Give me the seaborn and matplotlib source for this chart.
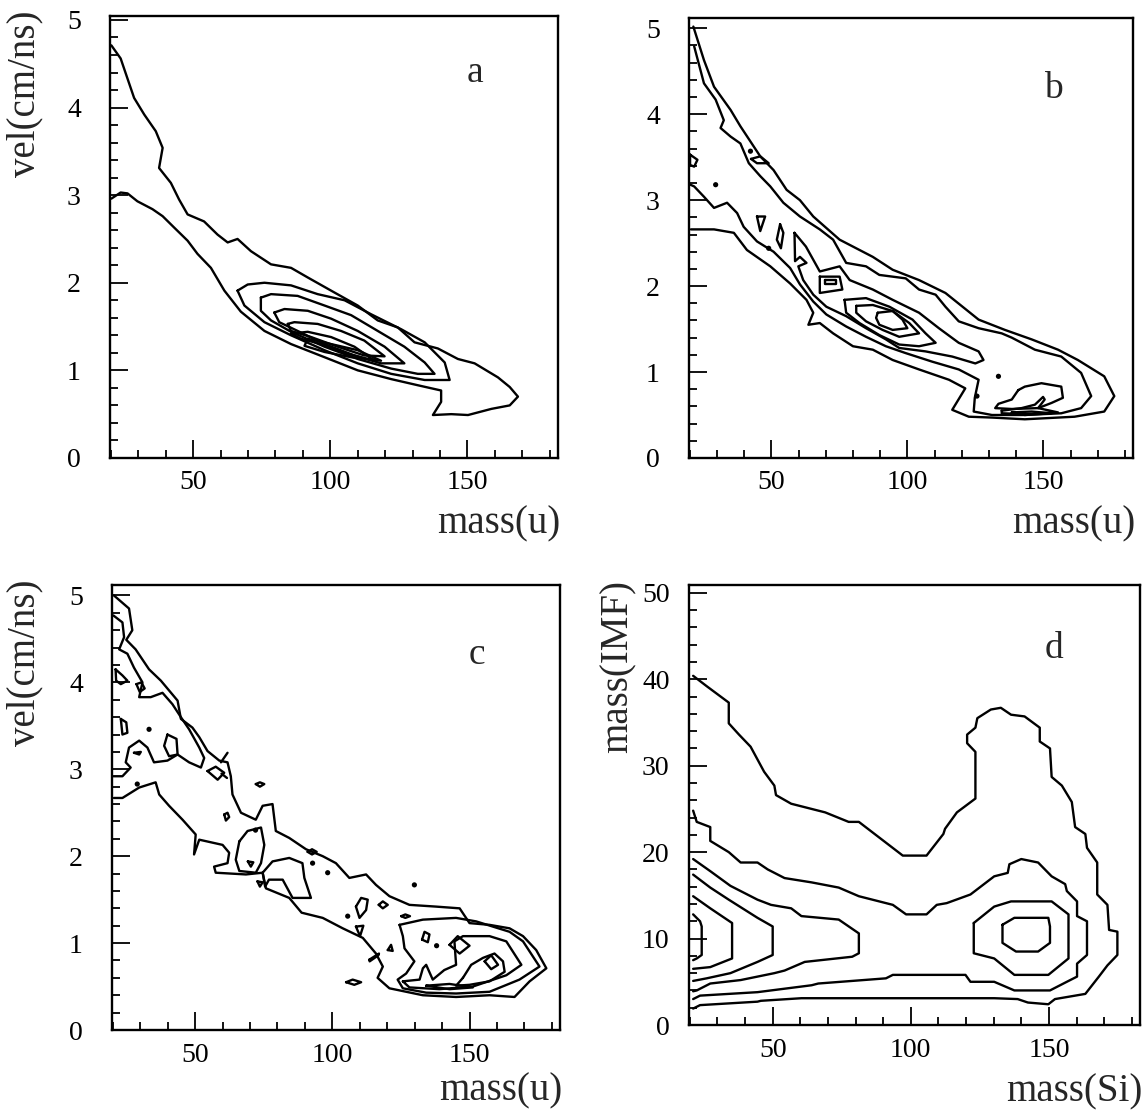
"""Four contour panels: fragment velocity vs mass, and IMF mass vs Si mass."""
import matplotlib
matplotlib.use("Agg")
import matplotlib.pyplot as plt
import seaborn as sns
from matplotlib.ticker import MultipleLocator

# ---- panel a: vel(cm/ns) vs mass(u), contour outlines (mass, vel) ----
A_OUTER = [(20.2, 4.71), (23.6, 4.56), (26.1, 4.33), (28.5, 4.11), (32.2, 3.92), (36.4, 3.73),
           (38.9, 3.54), (37.6, 3.31), (41.9, 3.14), (44.9, 2.95), (48.0, 2.78), (54.0, 2.70),
           (58.9, 2.55), (62.6, 2.46), (66.2, 2.50), (71.1, 2.36), (78.4, 2.21), (85.7, 2.17),
           (91.8, 2.06), (100.3, 1.91), (110.0, 1.74), (117.3, 1.57), (124.6, 1.49), (130.7, 1.32),
           (139.2, 1.25), (146.5, 1.13), (152.6, 1.08), (161.1, 0.92), (165.4, 0.81), (168.4, 0.70),
           (165.4, 0.60), (158.7, 0.56), (150.2, 0.49), (144.1, 0.50), (137.4, 0.49), (140.4, 0.64),
           (140.4, 0.77), (131.9, 0.83), (122.2, 0.90), (110.0, 1.00), (97.9, 1.15), (85.7, 1.30),
           (76.0, 1.45), (67.4, 1.67), (61.4, 1.91), (56.5, 2.17), (51.6, 2.33), (48.0, 2.48),
           (43.1, 2.63), (38.9, 2.76), (35.2, 2.84), (29.7, 2.93), (26.1, 3.02), (23.6, 3.03),
           (20.2, 2.96)]
A_RING2 = [(66.2, 1.91), (69.9, 1.98), (76.0, 2.00), (85.7, 1.97), (95.4, 1.87), (105.2, 1.80),
           (114.9, 1.64), (125.8, 1.47), (134.4, 1.32), (141.7, 1.09), (143.5, 0.89), (134.4, 0.89),
           (122.2, 0.96), (110.0, 1.08), (97.9, 1.23), (85.7, 1.40), (76.0, 1.55), (68.7, 1.74)]
A_RING3 = [(74.7, 1.83), (78.4, 1.87), (88.1, 1.85), (97.9, 1.74), (107.6, 1.63), (117.3, 1.45),
           (127.0, 1.27), (134.4, 1.09), (138.0, 0.96), (131.9, 0.96), (122.2, 1.02), (110.0, 1.13),
           (97.9, 1.27), (85.7, 1.44), (78.4, 1.57), (74.7, 1.68)]
A_RING4 = [(79.6, 1.66), (83.3, 1.70), (91.8, 1.68), (100.3, 1.59), (110.0, 1.45), (119.8, 1.27),
           (127.0, 1.08), (118.5, 1.08), (108.8, 1.17), (97.9, 1.30), (88.1, 1.45), (81.4, 1.55)]
A_RING5 = [(84.5, 1.53), (86.9, 1.55), (95.4, 1.53), (103.9, 1.45), (112.4, 1.34), (119.8, 1.16),
           (112.4, 1.17), (102.7, 1.27), (93.0, 1.38), (85.7, 1.45)]
A_RING6 = [(85.7, 1.42), (91.8, 1.44), (100.3, 1.38), (108.8, 1.27), (116.1, 1.11), (106.4, 1.19),
           (96.7, 1.30), (89.4, 1.36)]
A_RING7 = [(91.8, 1.36), (100.3, 1.30), (110.0, 1.23), (118.5, 1.11), (107.6, 1.15), (97.9, 1.21),
           (90.6, 1.28)]

# ---- panel b ----
B_OUTER = [(21.3, 5.02), (25.2, 4.63), (28.9, 4.32), (35.0, 4.05), (38.6, 3.86), (45.9, 3.51),
           (50.8, 3.35), (55.6, 3.12), (60.5, 3.00), (65.4, 2.81), (75.1, 2.54), (87.3, 2.34),
           (94.6, 2.19), (104.3, 2.07), (114.0, 1.92), (126.2, 1.61), (135.9, 1.49), (145.7, 1.38),
           (155.4, 1.26), (162.7, 1.14), (172.4, 0.95), (176.1, 0.72), (172.4, 0.54), (161.5, 0.48),
           (143.2, 0.45), (131.1, 0.47), (122.6, 0.48), (116.5, 0.56), (121.3, 0.81), (115.3, 0.91),
           (104.3, 1.03), (94.6, 1.14), (87.3, 1.26), (80.0, 1.30), (72.7, 1.45), (67.8, 1.57),
           (63.6, 1.55), (65.4, 1.69), (62.9, 1.84), (56.9, 2.03), (49.6, 2.23), (41.0, 2.42),
           (36.2, 2.62), (28.9, 2.66), (22.8, 2.66), (20.4, 2.66)]
B_BAND = [(21.6, 4.79), (25.2, 4.36), (29.5, 4.17), (32.5, 3.93), (31.3, 3.84), (35.0, 3.74),
          (38.6, 3.66), (41.7, 3.43), (45.9, 3.28), (49.6, 3.16), (54.4, 2.97), (60.5, 2.81),
          (67.8, 2.66), (72.7, 2.54), (77.5, 2.27), (84.8, 2.23), (89.7, 2.13), (99.4, 2.09),
          (104.3, 1.96), (110.4, 1.90), (114.0, 1.76), (118.9, 1.59), (126.2, 1.51), (134.7, 1.45),
          (138.4, 1.40), (146.9, 1.26), (156.6, 1.18), (163.9, 0.99), (167.6, 0.72), (163.9, 0.58),
          (156.6, 0.52), (143.2, 0.50), (131.1, 0.50), (124.4, 0.54), (124.8, 0.70), (126.2, 0.91),
          (118.9, 1.03), (109.2, 1.12), (99.4, 1.22), (92.1, 1.30), (84.8, 1.41), (77.5, 1.53),
          (70.2, 1.67), (65.4, 1.82), (60.5, 2.02), (56.9, 2.21), (50.8, 2.40), (44.7, 2.52),
          (39.8, 2.69), (37.4, 2.85), (33.7, 2.97), (28.9, 2.91), (25.2, 3.04), (21.6, 3.16),
          (20.2, 3.18)]
B_RIDGE = [(58.5, 2.62), (62.7, 2.46), (67.8, 2.17), (75.1, 2.23), (78.8, 2.07), (87.3, 1.96),
           (94.6, 1.84), (104.3, 1.69), (111.6, 1.51), (118.9, 1.34), (126.2, 1.24), (128.0, 1.14),
           (125.0, 1.10), (116.5, 1.18), (106.7, 1.24), (97.0, 1.28), (92.1, 1.38), (84.8, 1.51),
           (77.5, 1.65), (70.2, 1.76), (65.4, 1.90), (61.7, 2.07), (59.9, 2.23), (62.9, 2.27),
           (60.5, 2.34), (58.7, 2.29)]
B_RING4 = [(76.9, 1.84), (84.8, 1.86), (93.4, 1.76), (101.9, 1.61), (106.7, 1.45), (110.4, 1.34),
           (104.3, 1.30), (97.0, 1.32), (89.7, 1.43), (82.4, 1.57), (77.5, 1.69)]
B_RING5 = [(81.2, 1.77), (87.3, 1.78), (94.6, 1.71), (100.7, 1.57), (104.3, 1.45), (97.0, 1.41),
           (90.9, 1.49), (84.8, 1.59), (81.2, 1.69)]
B_RING6 = [(89.1, 1.69), (94.6, 1.71), (98.2, 1.61), (100.0, 1.51), (94.6, 1.49), (89.7, 1.55),
           (88.5, 1.63)]
B_ISLE70 = [(67.8, 2.11), (75.1, 2.11), (76.1, 1.96), (67.8, 1.92)]
B_ISLE70_IN = [(69.6, 2.07), (73.9, 2.07), (73.9, 2.03), (69.6, 2.03)]
B_TAIL3 = [(140.8, 0.79), (143.2, 0.83), (149.3, 0.87), (156.6, 0.83), (157.2, 0.70), (153.0, 0.64),
           (148.1, 0.58), (138.4, 0.57), (132.3, 0.58), (133.5, 0.63), (138.4, 0.68)]
B_TAIL4 = [(134.7, 0.55), (142.0, 0.58), (146.9, 0.62), (149.9, 0.71), (150.5, 0.68), (148.1, 0.58),
           (155.4, 0.53), (143.2, 0.51), (134.7, 0.52)]
B_TAIL5 = [(138.4, 0.53), (145.7, 0.54), (153.0, 0.52), (143.2, 0.50)]
B_ISLE45 = [(42.5, 3.48), (45.9, 3.51), (49.0, 3.43), (44.7, 3.43)]
B_TRI46 = [(44.7, 2.81), (47.7, 2.81), (45.9, 2.64)]
B_OVAL53 = [(53.2, 2.72), (54.4, 2.62), (53.5, 2.44), (52.0, 2.54)]
B_EDGE = [(20.1, 3.53), (22.8, 3.47), (21.6, 3.39), (20.1, 3.41)]
B_DOTS = [(29.5, 3.18), (49.0, 2.44), (125.6, 0.72), (133.5, 0.95), (42.3, 3.57)]

# ---- panel c ----
C_OUTER = [(20.4, 5.00), (25.9, 4.85), (27.1, 4.60), (24.9, 4.49), (28.3, 4.38), (33.2, 4.15),
           (37.5, 4.02), (43.6, 3.79), (44.8, 3.58), (49.0, 3.48), (51.5, 3.37), (54.5, 3.21),
           (58.8, 3.10), (61.8, 3.08), (63.0, 2.92), (63.6, 2.71), (66.7, 2.50), (72.1, 2.42),
           (74.6, 2.58), (78.2, 2.60), (79.4, 2.29), (84.3, 2.21), (90.4, 2.08), (96.5, 2.00),
           (101.3, 1.92), (106.2, 1.75), (112.3, 1.79), (115.9, 1.67), (120.8, 1.54), (128.1, 1.44),
           (137.8, 1.42), (146.4, 1.40), (150.0, 1.23), (157.3, 1.21), (164.6, 1.17), (169.5, 1.08),
           (174.3, 0.92), (178.0, 0.71), (171.9, 0.56), (166.4, 0.38), (157.3, 0.40), (145.1, 0.38),
           (133.0, 0.40), (120.8, 0.48), (116.5, 0.60), (118.4, 0.73), (115.9, 0.88), (111.1, 1.06),
           (103.8, 1.17), (96.5, 1.29), (88.8, 1.35), (84.3, 1.52), (75.8, 1.63), (74.6, 1.81),
           (68.5, 1.79), (57.5, 1.81), (56.9, 1.88), (61.8, 1.92), (62.4, 2.04), (60.0, 2.13),
           (51.5, 2.19), (49.6, 2.02), (50.2, 2.25), (45.4, 2.42), (40.5, 2.58), (36.9, 2.71),
           (35.6, 2.85), (29.6, 2.79), (23.5, 2.67), (20.4, 2.67)]
C_BAND = [(20.2, 4.77), (23.5, 4.69), (24.1, 4.52), (22.3, 4.38), (25.3, 4.33), (27.7, 4.17),
          (30.8, 4.00), (29.6, 3.83), (33.8, 3.83), (38.1, 3.88), (41.7, 3.75), (44.8, 3.60),
          (47.8, 3.46), (51.5, 3.25), (53.3, 3.13), (52.1, 3.02), (47.8, 3.08), (43.6, 3.17),
          (39.9, 3.10), (35.0, 3.08), (32.6, 3.25), (29.6, 3.33), (25.9, 3.25), (24.7, 3.08),
          (26.5, 3.02), (23.5, 2.92), (20.2, 2.92)]
C_STAR = [(21.0, 4.15), (23.5, 4.08), (25.3, 4.02), (22.9, 3.98), (21.2, 4.02)]
C_ISLE24 = [(22.9, 3.58), (24.9, 3.54), (25.3, 3.42), (23.5, 3.40)]
C_ISLE41 = [(39.9, 3.40), (43.2, 3.35), (43.6, 3.17), (40.5, 3.15), (38.7, 3.27)]
C_ISLE29 = [(27.7, 3.19), (30.2, 3.20), (29.6, 3.17)]
C_ISLE30 = [(28.6, 3.98), (30.4, 4.00), (31.6, 3.93), (29.8, 3.89)]
C_DIAMOND = [(54.5, 2.98), (57.5, 3.03), (60.6, 2.96), (58.2, 2.88)]
C_OVAL73 = [(72.1, 2.83), (73.6, 2.85), (75.2, 2.83), (73.6, 2.80)]
C_LOOP61 = [(60.6, 2.48), (61.8, 2.50), (62.4, 2.45), (61.2, 2.41)]
C_ISLE70 = [(66.1, 2.17), (69.1, 2.29), (74.0, 2.33), (75.2, 2.13), (74.0, 1.92), (72.1, 1.81),
            (66.1, 1.83), (64.8, 1.96)]
C_TRI70 = [(69.2, 1.94), (71.2, 1.93), (70.3, 1.88)]
C_TRI73 = [(72.7, 1.71), (74.6, 1.70), (73.6, 1.65)]
C_ISLE85 = [(74.6, 1.81), (78.2, 1.94), (84.3, 1.98), (89.1, 1.92), (89.8, 1.75), (92.2, 1.52),
            (85.5, 1.52), (81.9, 1.73), (76.9, 1.73), (75.5, 1.65)]
C_OVAL93 = [(91.0, 2.05), (92.6, 2.08), (94.3, 2.05), (92.6, 2.02)]
C_LOOP110 = [(108.6, 1.42), (110.5, 1.52), (112.9, 1.50), (112.3, 1.38), (109.9, 1.29)]
C_OVAL118 = [(116.9, 1.44), (118.4, 1.48), (120.2, 1.44), (118.4, 1.40)]
C_OVAL127 = [(125.1, 1.31), (126.6, 1.33), (128.3, 1.31), (126.6, 1.29)]
C_TRI110 = [(108.6, 1.19), (111.3, 1.20), (110.1, 1.08)]
C_TRI121 = [(120.2, 0.92), (121.4, 0.98), (122.0, 0.91)]
C_LOOP134 = [(132.7, 1.04), (133.6, 1.13), (135.4, 1.10), (134.8, 1.01)]
C_OVAL108 = [(105.0, 0.55), (107.4, 0.58), (110.5, 0.55), (108.0, 0.52)]
C_DASH115 = [(113.5, 0.81), (117.0, 0.88), (116.8, 0.86), (113.6, 0.79)]
C_BLOB2 = [(124.5, 1.21), (133.0, 1.27), (145.1, 1.29), (152.4, 1.25), (164.6, 1.13), (169.5, 1.02),
           (175.5, 0.73), (168.2, 0.58), (157.3, 0.44), (145.1, 0.42), (134.2, 0.43), (125.7, 0.48),
           (123.8, 0.58), (126.9, 0.65), (129.9, 0.79), (126.3, 0.94), (125.7, 1.08)]
C_BLOB3 = [(125.7, 0.56), (131.8, 0.58), (133.0, 0.71), (134.2, 0.75), (136.6, 0.58), (140.8, 0.69),
           (145.1, 0.75), (144.5, 1.02), (147.6, 1.08), (157.3, 1.08), (163.4, 1.02), (168.9, 0.75),
           (163.4, 0.63), (151.2, 0.50), (139.0, 0.47), (128.1, 0.49)]
C_BLOB4A = [(142.7, 0.98), (145.7, 1.08), (150.0, 0.97), (146.4, 0.88)]
C_BLOB4B = [(147.6, 0.60), (150.6, 0.75), (154.9, 0.83), (159.1, 0.88), (162.2, 0.79), (162.8, 0.67),
            (157.3, 0.56), (150.0, 0.52), (145.1, 0.51)]
C_BLOB5 = [(155.5, 0.79), (157.9, 0.86), (160.4, 0.75), (157.9, 0.70)]
C_BLOB5B = [(134.2, 0.51), (142.7, 0.53), (151.2, 0.49), (142.7, 0.47)]
C_DOTS = [(98.3, 1.81), (92.8, 1.92), (105.6, 1.31), (129.9, 1.67), (33.2, 3.46), (28.9, 2.83),
          (72.0, 2.30), (138.0, 0.97)]
C_TICKS = [[(59.4, 3.08), (61.8, 3.19)], [(59.6, 2.95), (61.6, 2.90)]]

# ---- panel d: mass(IMF) vs mass(Si) ----
D_OUTER = [(21.2, 40.4), (26.1, 39.2), (34.1, 37.3), (34.1, 34.9), (37.8, 33.6), (42.0, 32.2),
           (46.9, 29.3), (50.6, 27.7), (51.2, 26.6), (56.7, 25.6), (69.0, 24.6), (77.5, 23.5),
           (81.2, 23.5), (97.1, 19.6), (105.7, 19.6), (111.8, 22.1), (112.4, 22.7), (116.7, 24.6),
           (123.4, 26.2), (123.4, 31.6), (120.4, 32.6), (120.4, 33.6), (123.4, 34.4), (124.1, 35.5),
           (129.0, 36.5), (132.6, 36.7), (136.3, 35.9), (141.2, 35.7), (146.7, 34.4), (146.7, 32.8),
           (150.4, 32.0), (151.0, 28.7), (154.7, 27.7), (158.3, 25.8), (159.5, 22.9), (163.2, 22.1),
           (163.8, 20.5), (167.5, 18.8), (167.5, 15.1), (171.2, 13.9), (171.8, 11.0), (174.8, 10.8),
           (174.8, 8.1), (171.2, 6.9), (168.1, 5.6), (163.2, 3.6), (152.2, 3.0), (149.8, 2.4),
           (142.4, 2.6), (138.7, 3.0), (130.2, 3.1), (60.4, 3.1), (45.7, 2.8), (44.5, 2.7),
           (23.7, 2.3), (21.2, 1.9)]
D_LEVEL2 = [(21.2, 24.8), (22.5, 23.5), (27.4, 22.9), (27.4, 21.3), (34.1, 20.0), (38.4, 18.8),
            (44.5, 18.8), (48.2, 18.0), (54.3, 17.0), (64.1, 16.5), (73.9, 15.9), (81.2, 14.9),
            (93.5, 13.9), (98.3, 12.8), (105.7, 12.8), (109.4, 13.9), (113.0, 14.1), (121.6, 15.1),
            (130.2, 17.2), (135.1, 17.6), (135.7, 18.6), (140.0, 19.2), (146.1, 18.8), (151.0, 17.2),
            (155.9, 16.3), (156.5, 15.5), (160.2, 14.3), (160.2, 12.6), (163.8, 12.0), (163.8, 8.1),
            (160.2, 7.1), (160.2, 5.6), (156.5, 5.0), (150.4, 4.0), (137.5, 4.0), (130.2, 5.0),
            (121.6, 5.0), (119.8, 5.8), (93.5, 5.8), (91.0, 5.4), (66.5, 4.8), (64.1, 4.6),
            (44.5, 3.8), (23.7, 3.4), (21.2, 3.0)]
D_LOBE3 = [(21.2, 19.2), (27.4, 17.8), (34.7, 16.1), (44.5, 14.5), (49.4, 13.9), (56.7, 13.5),
           (60.4, 12.6), (73.9, 12.2), (81.2, 10.6), (81.2, 8.3), (78.8, 7.9), (61.6, 7.3),
           (54.3, 6.3), (50.6, 6.0), (38.4, 5.2), (27.4, 4.8), (22.5, 4.0), (21.2, 3.9)]
D_LOBE4 = [(21.2, 17.4), (27.4, 15.9), (34.1, 14.5), (44.5, 12.4), (50.0, 11.4), (50.0, 8.1),
           (44.5, 7.3), (34.7, 6.0), (26.1, 5.4), (21.2, 5.1)]
D_LOBE5 = [(21.2, 14.9), (27.4, 13.5), (35.3, 11.8), (35.3, 7.7), (27.4, 6.7), (21.2, 6.5)]
D_LOBE6 = [(21.2, 12.8), (23.7, 12.0), (24.3, 11.4), (24.3, 8.1), (22.5, 7.7), (21.2, 7.5)]
D_PEAK3 = [(122.8, 11.8), (130.2, 13.7), (136.3, 14.3), (151.0, 14.3), (157.1, 12.8), (157.1, 7.7),
           (149.8, 5.8), (137.5, 5.8), (130.2, 7.7), (122.8, 8.3)]
D_PEAK4 = [(133.2, 11.6), (137.5, 12.4), (149.8, 12.4), (150.4, 11.4), (150.4, 9.5), (146.1, 8.5),
           (138.1, 8.5), (133.2, 9.5)]

XLABELS = ["mass(u)", "mass(u)", "mass(u)", "mass(Si)"]
YLABELS = ["vel(cm/ns)", "", "vel(cm/ns)", "mass(IMF)"]
PANEL_TAGS = ["a", "b", "c", "d"]

PANELS = [
    {"open": [A_OUTER],
     "closed": [A_RING2, A_RING3, A_RING4, A_RING5, A_RING6, A_RING7],
     "dots": [], "segments": []},
    {"open": [B_OUTER, B_BAND],
     "closed": [B_RIDGE, B_RING4, B_RING5, B_RING6, B_ISLE70, B_ISLE70_IN, B_TAIL3, B_TAIL4,
                B_TAIL5, B_ISLE45, B_TRI46, B_OVAL53, B_EDGE],
     "dots": B_DOTS, "segments": []},
    {"open": [C_OUTER, C_BAND],
     "closed": [C_STAR, C_ISLE24, C_ISLE41, C_ISLE29, C_ISLE30, C_DIAMOND, C_OVAL73, C_LOOP61,
                C_ISLE70, C_TRI70, C_TRI73, C_ISLE85, C_OVAL93, C_LOOP110, C_OVAL118, C_OVAL127,
                C_TRI110, C_TRI121, C_LOOP134, C_OVAL108, C_DASH115, C_BLOB2, C_BLOB3, C_BLOB4A,
                C_BLOB4B, C_BLOB5, C_BLOB5B],
     "dots": C_DOTS, "segments": C_TICKS},
    {"open": [D_OUTER, D_LEVEL2, D_LOBE3, D_LOBE4, D_LOBE5, D_LOBE6],
     "closed": [D_PEAK3, D_PEAK4],
     "dots": [], "segments": []},
]

# axes boxes in figure fraction: left, bottom, width, height
BOXES = [(0.0962, 0.5878, 0.3920, 0.3978),
         (0.6028, 0.5878, 0.3885, 0.3960),
         (0.0980, 0.0729, 0.3920, 0.4005),
         (0.6028, 0.0774, 0.3946, 0.3960)]
YLIMS = [(0, 5.045), (0, 5.12), (0, 5.12), (0, 50.9)]
YSTEPS = [(1, 0.2), (1, 0.2), (1, 0.2), (10, 2)]
TAG_POS = [(0.815, 0.871), (0.82, 0.84), (0.815, 0.843), (0.81, 0.855)]
YLABEL_X = [-0.19, None, -0.194, -0.158]
XLABEL_Y = [-0.15, -0.15, -0.137, -0.152]
YPAD = [21, 21, 21, 14]

LINE_KW = dict(color="black", linewidth=1.7, sort=False, estimator=None, legend=False)


def draw_line(ax, pts, close=False):
    if close:
        pts = list(pts) + [pts[0]]
    xs = [p[0] for p in pts]
    ys = [p[1] for p in pts]
    sns.lineplot(x=xs, y=ys, ax=ax, **LINE_KW)


def style_axis(ax, i):
    ax.set_xlim(19.7, 183)
    ax.set_ylim(*YLIMS[i])
    major, minor = YSTEPS[i]
    ax.xaxis.set_major_locator(MultipleLocator(50))
    ax.xaxis.set_minor_locator(MultipleLocator(10))
    ax.yaxis.set_major_locator(MultipleLocator(major))
    ax.yaxis.set_minor_locator(MultipleLocator(minor))
    ax.tick_params(which="both", direction="in", top=False, right=False, width=1.3,
                   colors="black", labelsize=20)
    ax.tick_params(which="major", length=13)
    ax.tick_params(which="minor", length=6)
    ax.tick_params(axis="x", which="major", pad=9)
    ax.tick_params(axis="y", which="major", pad=YPAD[i])
    for spine in ax.spines.values():
        spine.set_visible(True)
        spine.set_linewidth(1.7)
        spine.set_color("black")
    ax.set_xlabel("")
    ax.set_ylabel("")
    ax.grid(False)


def main():
    sns.set_style("ticks")
    plt.rcParams["font.family"] = ["Liberation Serif", "DejaVu Serif"]
    fig = plt.figure(figsize=(11.43, 11.11), dpi=100)
    for i, panel in enumerate(PANELS):
        ax = fig.add_axes(BOXES[i])
        for pts in panel["open"]:
            draw_line(ax, pts)
        for pts in panel["closed"]:
            draw_line(ax, pts, close=True)
        for pts in panel["segments"]:
            draw_line(ax, pts)
        if panel["dots"]:
            sns.scatterplot(x=[p[0] for p in panel["dots"]], y=[p[1] for p in panel["dots"]],
                            ax=ax, color="black", s=14, edgecolor="none", legend=False)
        style_axis(ax, i)
        ax.text(*TAG_POS[i], PANEL_TAGS[i], transform=ax.transAxes, fontsize=27,
                ha="center", va="center")
        ax.text(1.006, XLABEL_Y[i], XLABELS[i], transform=ax.transAxes, fontsize=28,
                ha="right", va="center")
        if YLABELS[i]:
            ax.text(YLABEL_X[i], 1.012, YLABELS[i], transform=ax.transAxes, fontsize=28,
                    rotation=90, ha="center", va="top")
    fig.savefig("out.png", dpi=100, facecolor="white")
    plt.close(fig)


if __name__ == "__main__":
    main()
